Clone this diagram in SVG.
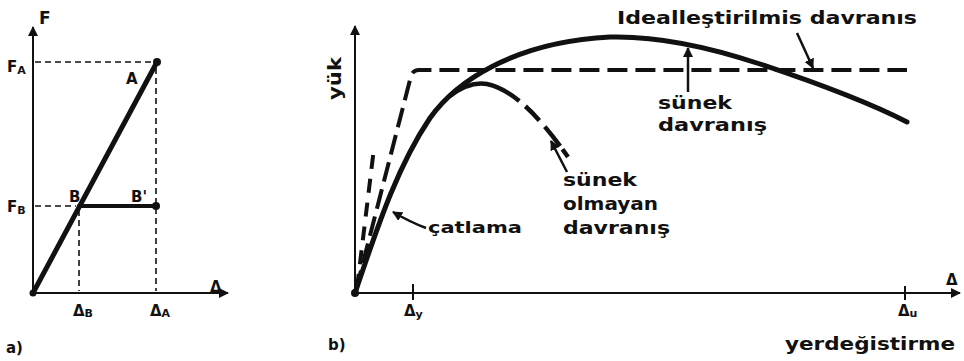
<svg xmlns="http://www.w3.org/2000/svg" width="964" height="361" viewBox="0 0 964 361">
<defs>
<style>
.ax{stroke:#111;stroke-width:2;fill:none}
.thin{stroke:#111;stroke-width:1.6;fill:none;stroke-dasharray:6 4}
.thick{stroke:#111;stroke-width:5;fill:none;stroke-linecap:round;stroke-linejoin:round}
.ideal{stroke:#111;stroke-width:4;fill:none;stroke-dasharray:20 8}
.lbl{font-family:"DejaVu Sans","Liberation Sans",sans-serif;font-weight:bold;fill:#111;font-size:17px}
.sm{font-size:15px}
.sub{font-size:11px}
.ptr{stroke:#111;stroke-width:2.5;fill:none}
</style>
<marker id="ah" viewBox="0 0 10 10" refX="9" refY="5" markerWidth="5" markerHeight="5" orient="auto">
<path d="M0,0 L10,5 L0,10 Z" fill="#111"/>
</marker>
<marker id="ph" viewBox="0 0 10 10" refX="9" refY="5" markerWidth="4" markerHeight="4" orient="auto">
<path d="M0,0 L10,5 L0,10 Z" fill="#111"/>
</marker>
</defs>
<rect width="964" height="361" fill="#fff"/>

<g id="panel-a">
<g id="a-axes">
<line class="ax" x1="33" y1="293" x2="33" y2="27" marker-end="url(#ah)"/>
<line class="ax" x1="33" y1="293" x2="228" y2="293" marker-end="url(#ah)"/>
</g>
<g id="a-guides">
<line class="thin" x1="35" y1="62" x2="155" y2="62"/>
<line class="thin" x1="156" y1="68" x2="156" y2="291"/>
<line class="thin" x1="35" y1="206" x2="76" y2="206"/>
<line class="thin" x1="79" y1="210" x2="79" y2="291"/>
</g>
<g id="a-curves">
<line class="thick" x1="33" y1="293" x2="157" y2="62"/>
<line class="thick" x1="79" y1="206" x2="156" y2="206" style="stroke-width:4"/>
<circle cx="157" cy="62" r="4" fill="#111"/>
<circle cx="156" cy="206" r="4" fill="#111"/>
<circle cx="33" cy="293" r="3.5" fill="#111"/>
</g>
<g id="a-labels">
<text class="lbl" x="39" y="24">F</text>
<text class="lbl sm" x="7" y="72">F<tspan class="sub" dy="2">A</tspan></text>
<text class="lbl sm" x="7" y="212">F<tspan class="sub" dy="2">B</tspan></text>
<text class="lbl sm" x="126" y="84">A</text>
<text class="lbl sm" x="69" y="202">B</text>
<text class="lbl sm" x="131" y="202">B'</text>
<text class="lbl sm" x="210" y="292">Δ</text>
<text class="lbl sm" x="73" y="316">Δ<tspan class="sub" dy="1">B</tspan></text>
<text class="lbl sm" x="150" y="316">Δ<tspan class="sub" dy="1">A</tspan></text>
<text class="lbl sm" x="6" y="353">a)</text>
</g>
</g>

<g id="panel-b">
<g id="b-axes">
<line class="ax" x1="355" y1="293" x2="355" y2="26" marker-end="url(#ah)"/>
<line class="ax" x1="355" y1="293" x2="960" y2="293" marker-end="url(#ah)"/>
<line class="ax" x1="413" y1="284" x2="413" y2="300"/>
<line class="ax" x1="905" y1="286" x2="905" y2="300"/>
<circle cx="355" cy="293" r="4" fill="#111"/>
</g>
<g id="connectors">
<path id="ideal" class="ideal" d="M356,290 L411,76 Q413,70 419,70 L907,70"/>
<path id="cracked" class="ideal" style="stroke-dasharray:14 10" d="M357,288 L374,148"/>
<path id="ductile" class="thick" d="M355,293 C375,235 395,170 430,118 C455,83 512,42 610,37 C650,36 700,44 760,64 C820,84 870,103 907,122"/>
<path id="nonductile" class="thick" style="stroke-width:4.5;stroke-dasharray:77 8 20 8 25 4 12 100;stroke-linecap:butt" d="M450,96 C463,86 475,82 487,84 C510,89 535,110 568,157"/>
<path class="ptr" d="M426,228 Q410,222 393,212" marker-end="url(#ph)"/>
<path class="ptr" d="M688,92 L688,48" marker-end="url(#ph)"/>
<path class="ptr" d="M797,33 L813,68" marker-end="url(#ph)"/>
<path class="ptr" d="M567,172 L551,141" marker-end="url(#ph)"/>
</g>
<g id="b-labels">
<text class="lbl" transform="translate(341,100) rotate(-90)" textLength="43" lengthAdjust="spacingAndGlyphs">yük</text>
<text class="lbl" x="617" y="24" textLength="300" lengthAdjust="spacingAndGlyphs">Idealleştirilmis davranıs</text>
<text class="lbl" x="658" y="109" textLength="74" lengthAdjust="spacingAndGlyphs">sünek</text>
<text class="lbl" x="658" y="131" textLength="109" lengthAdjust="spacingAndGlyphs">davranış</text>
<text class="lbl" x="563" y="186" textLength="74" lengthAdjust="spacingAndGlyphs">sünek</text>
<text class="lbl" x="563" y="210" textLength="95" lengthAdjust="spacingAndGlyphs">olmayan</text>
<text class="lbl" x="563" y="234" textLength="107" lengthAdjust="spacingAndGlyphs">davranış</text>
<text class="lbl sm" x="428" y="233" textLength="94" lengthAdjust="spacingAndGlyphs">çatlama</text>
<text class="lbl" x="785" y="350" textLength="170" lengthAdjust="spacingAndGlyphs">yerdeğistirme</text>
<text class="lbl sm" x="404" y="316">Δ<tspan class="sub" dy="2">y</tspan></text>
<text class="lbl sm" x="898" y="316">Δ<tspan class="sub" dy="1">u</tspan></text>
<text class="lbl sm" x="946" y="285">Δ</text>
<text class="lbl sm" x="328" y="350">b)</text>
</g>
</g>
</svg>
